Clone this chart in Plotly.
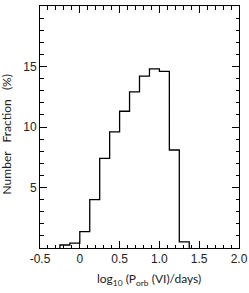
import plotly.graph_objects as go

# Histogram data: bin edges (log10 P_orb) and number fraction (%)
bin_edges = [-0.25, -0.125, 0.0, 0.125, 0.25, 0.375, 0.5, 0.625, 0.75, 0.875, 1.0, 1.125, 1.25, 1.375]
fractions = [0.25, 0.4, 1.35, 4.0, 7.4, 9.6, 11.3, 12.9, 14.2, 14.8, 14.6, 8.1, 0.5]

x_ticks = [-0.5, 0, 0.5, 1.0, 1.5, 2.0]
x_tick_labels = ["-0.5", "0", "0.5", "1.0", "1.5", "2.0"]
y_ticks = [5, 10, 15, 20]
y_tick_labels = ["5", "10", "15", "20"]

# step outline built from the bins
xs = []
ys = []
xs.append(bin_edges[0]); ys.append(0)
for i, v in enumerate(fractions):
    xs.append(bin_edges[i]); ys.append(v)
    xs.append(bin_edges[i + 1]); ys.append(v)
xs.append(bin_edges[-1]); ys.append(0)

fig = go.Figure()
fig.add_trace(go.Scatter(x=xs, y=ys, mode="lines",
                         line=dict(color="black", width=1.3),
                         hoverinfo="skip", showlegend=False))
# invisible trace to anchor the minor-tick overlay axes
fig.add_trace(go.Scatter(x=[-0.5], y=[0], mode="markers", marker=dict(opacity=0),
                         xaxis="x2", yaxis="y2", hoverinfo="skip", showlegend=False))

tick_font = dict(family="Liberation Sans, Arial, sans-serif", size=12, color="#222")
axis_common = dict(
    showgrid=False, zeroline=False, showline=True, linecolor="black", linewidth=1,
    mirror="allticks", ticks="inside", ticklen=7, tickwidth=1, tickcolor="black",
    tickfont=tick_font, automargin=False, tickmode="array",
)
minor_common = dict(
    showgrid=False, zeroline=False, showline=False, mirror="allticks",
    ticks="inside", ticklen=3.5, tickwidth=1, tickcolor="black",
    showticklabels=False, automargin=False, tickmode="linear", tick0=0,
)

title_font = dict(family="Lato, DejaVu Sans, sans-serif", size=12, color="#222")

fig.update_layout(
    width=249, height=293,
    margin=dict(l=40, r=10, t=6, b=45),
    paper_bgcolor="white", plot_bgcolor="white",
    xaxis=dict(range=[-0.5, 2.0], tickvals=x_ticks, ticktext=x_tick_labels, **axis_common),
    yaxis=dict(range=[0, 20], tickvals=y_ticks, ticktext=y_tick_labels, **axis_common),
    xaxis2=dict(range=[-0.5, 2.0], overlaying="x", anchor="y2", dtick=0.1, **minor_common),
    yaxis2=dict(range=[0, 20], overlaying="y", anchor="x2", dtick=1, **minor_common),
    annotations=[
        dict(text="log<sub>10</sub> (P<sub>orb</sub> (VI)/days)", xref="paper", yref="paper",
             x=0.55, y=-0.13, yanchor="middle", xanchor="center", showarrow=False, font=title_font),
        dict(text="Number&nbsp;&nbsp; Fraction&nbsp;&nbsp; (%)", xref="paper", yref="paper",
             x=-0.17, y=0.47, xanchor="center", yanchor="middle", textangle=-90,
             showarrow=False, font=title_font),
    ],
)

fig.write_html("out.html", config={"displayModeBar": False},
               post_script="document.body.style.margin='0';document.body.style.padding='0';")
